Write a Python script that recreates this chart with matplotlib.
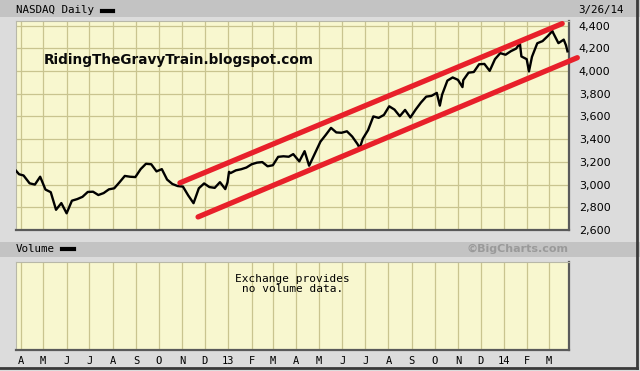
import numpy as np
import pandas as pd
import matplotlib
matplotlib.use("Agg")
import matplotlib.pyplot as plt
from matplotlib.patches import Rectangle
from matplotlib.lines import Line2D

# NASDAQ closes (approx. weekly)
dates = ["2012-03-26", "2012-03-30", "2012-04-05", "2012-04-13", "2012-04-20", "2012-04-27",
         "2012-05-04", "2012-05-11", "2012-05-18", "2012-05-25", "2012-06-01", "2012-06-08",
         "2012-06-15", "2012-06-22", "2012-06-29", "2012-07-06", "2012-07-13", "2012-07-20",
         "2012-07-27", "2012-08-03", "2012-08-10", "2012-08-17", "2012-08-24", "2012-08-31",
         "2012-09-07", "2012-09-14", "2012-09-21", "2012-09-28", "2012-10-05", "2012-10-12",
         "2012-10-19", "2012-10-26", "2012-11-02", "2012-11-09", "2012-11-16", "2012-11-23",
         "2012-11-30", "2012-12-07", "2012-12-14", "2012-12-21", "2012-12-28", "2012-12-31",
         "2013-01-02", "2013-01-04", "2013-01-11", "2013-01-18", "2013-01-25", "2013-02-01",
         "2013-02-08", "2013-02-15", "2013-02-22", "2013-03-01", "2013-03-08", "2013-03-15",
         "2013-03-22", "2013-03-28", "2013-04-05", "2013-04-12", "2013-04-18", "2013-04-26",
         "2013-05-03", "2013-05-10", "2013-05-17", "2013-05-24", "2013-05-31", "2013-06-07",
         "2013-06-14", "2013-06-21", "2013-06-24", "2013-06-28", "2013-07-05", "2013-07-12",
         "2013-07-19", "2013-07-26", "2013-08-02", "2013-08-09", "2013-08-16", "2013-08-23",
         "2013-08-30", "2013-09-06", "2013-09-13", "2013-09-20", "2013-09-27", "2013-10-04",
         "2013-10-08", "2013-10-11", "2013-10-18", "2013-10-25", "2013-11-01", "2013-11-07",
         "2013-11-08", "2013-11-15", "2013-11-22", "2013-11-29", "2013-12-06", "2013-12-13",
         "2013-12-20", "2013-12-27", "2014-01-03", "2014-01-10", "2014-01-17", "2014-01-22",
         "2014-01-24", "2014-01-31", "2014-02-03", "2014-02-07", "2014-02-14", "2014-02-21",
         "2014-02-28", "2014-03-06", "2014-03-07", "2014-03-14", "2014-03-21", "2014-03-24",
         "2014-03-26"]
closes = [3122, 3091, 3080, 3011, 3000, 3069,
          2956, 2933, 2778, 2837, 2747, 2858,
          2872, 2892, 2935, 2937, 2908, 2925,
          2958, 2967, 3020, 3076, 3069, 3066,
          3136, 3183, 3179, 3116, 3136, 3044,
          3005, 2987, 2982, 2904, 2836, 2967,
          3010, 2978, 2971, 3021, 2960, 3020,
          3112, 3101, 3125, 3135, 3150, 3179,
          3193, 3198, 3161, 3170, 3244, 3249,
          3245, 3268, 3204, 3294, 3166, 3279,
          3378, 3437, 3499, 3459, 3456, 3469,
          3423, 3357, 3320, 3403, 3479, 3600,
          3587, 3613, 3689, 3660, 3602, 3657,
          3590, 3660, 3722, 3774, 3781, 3807,
          3695, 3791, 3915, 3943, 3922, 3858,
          3919, 3985, 3991, 4059, 4062, 4001,
          4104, 4157, 4143, 4174, 4197, 4243,
          4128, 4104, 3996, 4125, 4244, 4263,
          4308, 4352, 4336, 4245, 4276, 4226,
          4173]

# trend channel drawn by hand on the chart
upper_dates = ["2012-10-29", "2014-03-19"]
upper_vals = [3015, 4417]
lower_dates = ["2012-11-22", "2014-04-08"]
lower_vals = [2715, 4117]

y_ticks = [2600, 2800, 3000, 3200, 3400, 3600, 3800, 4000, 4200, 4400]
month_starts = pd.date_range("2012-04-01", "2014-03-01", freq="MS")
month_labels = ["A", "M", "J", "J", "A", "S", "O", "N", "D", "13", "F", "M",
                "A", "M", "J", "J", "A", "S", "O", "N", "D", "14", "F", "M"]

W, H = 640, 371
BG = "#dcdcdc"
BAND = "#c3c3c3"
FACE = "#f8f7cf"
GRID = "#c9c48f"
MONO = "DejaVu Sans Mono"

fig = plt.figure(figsize=(6.4, 3.71), dpi=100, facecolor=BG)

def fx(px):
    return px / W

def fy(py):
    return 1 - py / H

# gray header bands
fig.patches.append(Rectangle((0, fy(17)), 1, 17 / H, transform=fig.transFigure,
                             facecolor=BAND, edgecolor="none", zorder=0))
fig.patches.append(Rectangle((0, fy(257)), 1, 15 / H, transform=fig.transFigure,
                             facecolor=BAND, edgecolor="none", zorder=0))

xmin, xmax = pd.Timestamp("2012-03-26"), pd.Timestamp("2014-03-28")

# ---- price panel
ax = fig.add_axes([fx(16), fy(230), fx(553), 209 / H])
ax.set_facecolor(FACE)
ax.plot(pd.to_datetime(dates), closes, color="black", lw=1.7, zorder=3)
ax.plot(pd.to_datetime(upper_dates), upper_vals, color="#e8202a", lw=3.8,
        solid_capstyle="round", clip_on=False, zorder=4)
ax.plot(pd.to_datetime(lower_dates), lower_vals, color="#e8202a", lw=3.8,
        solid_capstyle="round", clip_on=False, zorder=4)
ax.set_xlim(xmin, xmax)
ax.set_ylim(2600, 4440)
ax.set_xticks(month_starts)
ax.set_xticklabels([])
ax.set_yticks(y_ticks)
ax.set_yticklabels([f"{v:,}" for v in y_ticks])
ax.yaxis.tick_right()
ax.tick_params(length=0, labelsize=8, pad=7)
ax.grid(True, color=GRID, lw=0.9)
ax.set_axisbelow(True)

# ---- volume panel
axv = fig.add_axes([fx(16), fy(350), fx(553), 88 / H])
axv.set_facecolor(FACE)
axv.set_xlim(xmin, xmax)
axv.set_ylim(0, 1)
axv.set_xticks(month_starts)
axv.set_xticklabels(month_labels, family=MONO, fontsize=7.5)
axv.set_yticks([])
axv.tick_params(length=0, pad=4)
axv.grid(True, axis="x", color=GRID, lw=0.9)
axv.text(0.5, 0.75, "Exchange provides\nno volume data.", transform=axv.transAxes,
         ha="center", va="center", family=MONO, fontsize=8, linespacing=0.95)

for a in (ax, axv):
    a.spines["top"].set_color("#b8b8a8")
    a.spines["left"].set_color("#b8b8a8")
    a.spines["top"].set_linewidth(0.8)
    a.spines["left"].set_linewidth(0.8)
    a.spines["bottom"].set_color("#5a5a5a")
    a.spines["right"].set_color("#5a5a5a")
    a.spines["bottom"].set_linewidth(1.6)
    a.spines["right"].set_linewidth(1.6)

# ---- header texts
fig.text(fx(16), fy(10), "NASDAQ Daily", family=MONO, fontsize=7.8, va="center")
fig.add_artist(Line2D([fx(102), fx(113)], [fy(11), fy(11)], color="black", lw=3,
                      transform=fig.transFigure))
fig.text(fx(578), fy(10), "3/26/14", family=MONO, fontsize=7.8, va="center")
fig.text(fx(16), fy(249), "Volume", family=MONO, fontsize=7.8, va="center")
fig.add_artist(Line2D([fx(62), fx(74)], [fy(249), fy(249)], color="black", lw=3,
                      transform=fig.transFigure))
fig.text(fx(569), fy(249), "\u00a9BigCharts.com", ha="right", va="center",
         fontsize=8, fontweight="bold", color="#9a9a9a")
fig.text(fx(44), fy(60), "RidingTheGravyTrain.blogspot.com", fontsize=9.8,
         fontweight="bold", va="center", color="#0a0a0a")

# outer frame shadow
fig.add_artist(Line2D([fx(637), fx(637)], [fy(368), 1], color="#3a3a3a", lw=2,
                      transform=fig.transFigure))
fig.add_artist(Line2D([0, fx(637)], [fy(368), fy(368)], color="#3a3a3a", lw=2,
                      transform=fig.transFigure))

fig.savefig("out.png", dpi=100, facecolor=BG)
